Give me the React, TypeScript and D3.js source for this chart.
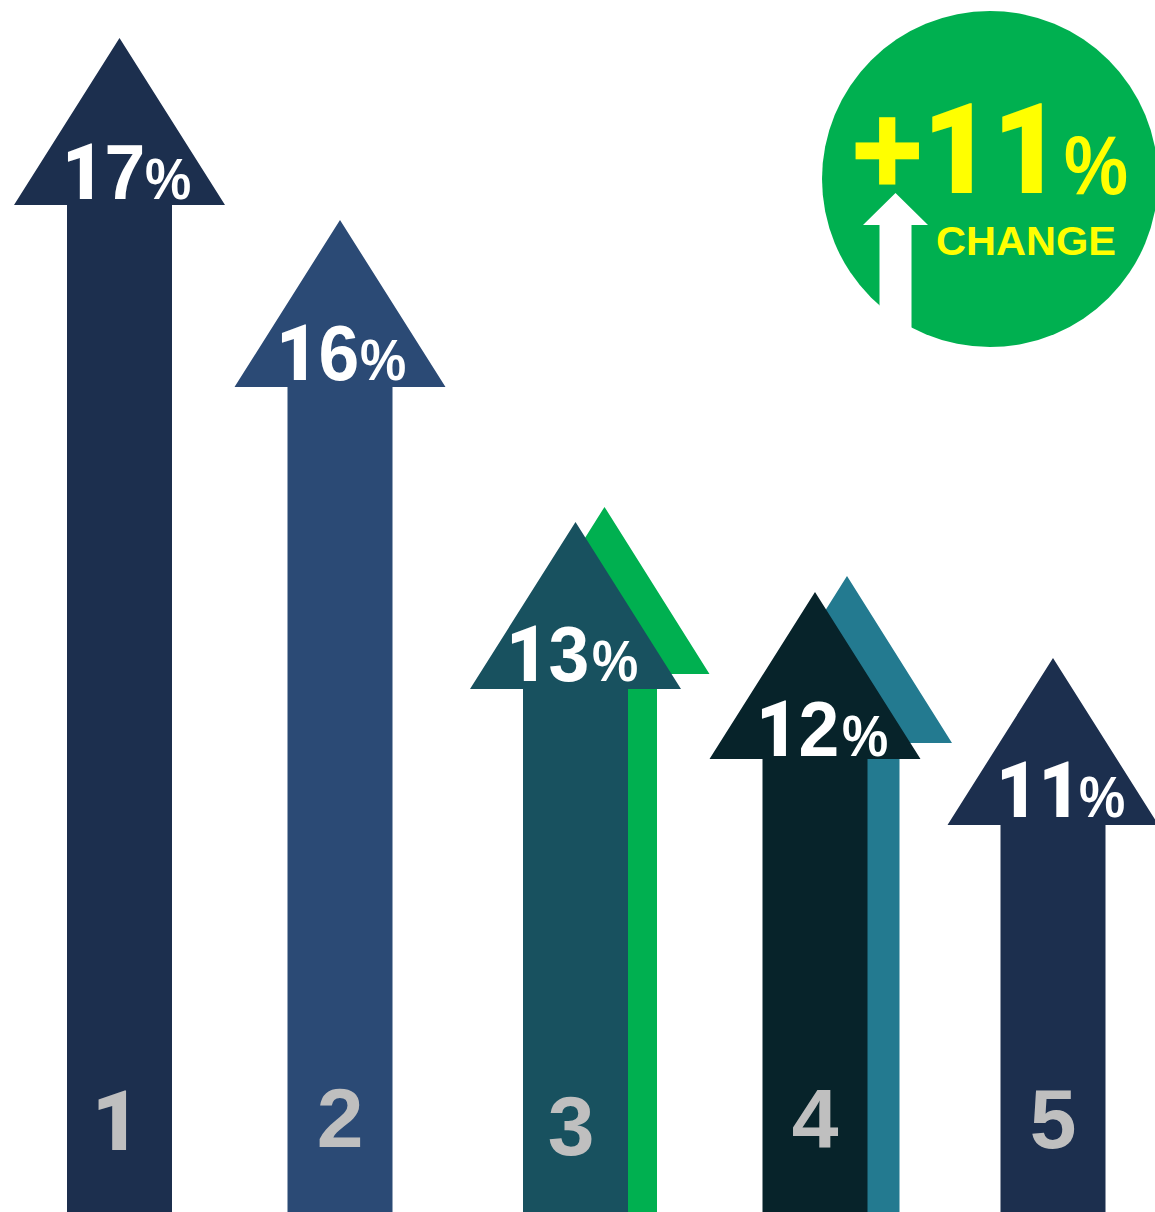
import * as d3 from 'd3';

const categories = ['1', '2', '3', '4', '5'];
const values = [17, 16, 13, 12, 11];
const backCategories = ['3', '4'];
const backValues = [13.15, 12.23];
const changeValue = 11;
const changeLabel = 'CHANGE';

const width = 1155;
const height = 1212;
const font = '"Liberation Sans", Arial, sans-serif';

// arrows are not drawn to a linear scale in the original
const y = d3.scaleLinear().domain([11, 12, 13, 16, 17]).range([658, 592, 522, 220, 38]);
const x = d3.scaleOrdinal<string, number>().domain(categories).range([119.5, 340, 575.5, 815, 1053]);
const backX = d3.scaleOrdinal<string, number>().domain(backCategories).range([604.5, 847]);
const color = d3.scaleOrdinal<string, string>().domain(categories)
  .range(['#1C2F4E', '#2B4A75', '#18515F', '#07232A', '#1C2F4E']);
const backColor = d3.scaleOrdinal<string, string>().domain(backCategories).range(['#00B050', '#237A90']);

// label placement per arrow
const valueX = d3.scaleOrdinal<string, number>().domain(categories).range([62, 276, 506, 756, 996]);
const pctX = d3.scaleOrdinal<string, number>().domain(categories).range([145, 360, 592, 842, 1079]);
const valueY = d3.scaleOrdinal<string, number>().domain(categories).range([199, 380, 681, 756, 817]);
const catY = d3.scaleOrdinal<string, number>().domain(categories).range([1150, 1147, 1155, 1148, 1148]);
const catX = d3.scaleOrdinal<string, number>().domain(categories).range([116, 340, 571, 815, 1053]);

const line = d3.line();

const arrowPath = (cx: number, tip: number, headW: number, headH: number, shaftW: number, bottom: number) =>
  line([
    [cx, tip],
    [cx + headW, tip + headH],
    [cx + shaftW, tip + headH],
    [cx + shaftW, bottom],
    [cx - shaftW, bottom],
    [cx - shaftW, tip + headH],
    [cx - headW, tip + headH],
  ]) + 'Z';

// Liberation's 1 has a foot serif, the original's does not
const digits = (s: string) =>
  s.split('').map((ch, i) => (
    <tspan key={i} fontFamily={ch === '1' ? 'Roboto' : font} fontWeight={ch === '1' ? 900 : 'bold'}>{ch}</tspan>
  ));

export default function App() {
  return (
    <svg
      width={width}
      height={height}
      style={{ position: 'absolute', left: 0, top: 0, display: 'block', background: '#fff', fontKerning: 'none' }}
      fontFamily={font}
      fontWeight="bold"
    >
      {backCategories.map((c, i) => (
        <path key={c} d={arrowPath(backX(c), y(backValues[i]), 105, 167, 52.5, height)} fill={backColor(c)} />
      ))}
      {categories.map((c, i) => (
        <g key={c}>
          <path d={arrowPath(x(c), y(values[i]), 105.5, 167, 52.5, height)} fill={color(c)} />
          <text transform={`translate(${valueX(c)},${valueY(c)}) scale(0.94,1)`} fontSize={78} fill="#fff">
            {digits(String(values[i]))}
          </text>
          <text transform={`translate(${pctX(c)},${valueY(c)}) scale(1,1.12)`} fontSize={52} fill="#fff">%</text>
          <text x={catX(c)} y={catY(c)} fontSize={84} fill="#BFBFBF" textAnchor="middle">{digits(c)}</text>
        </g>
      ))}
      <circle cx={990} cy={179} r={168} fill="#00B050" />
      <path d={arrowPath(895.5, 193, 32.5, 32, 16, 335)} fill="#fff" />
      <text transform="translate(852,193) scale(0.95,1)" fontSize={127} fill="#FFFF00">
        <tspan stroke="#FFFF00" strokeWidth={3}>+</tspan>
        {digits(String(changeValue))}
      </text>
      <text transform="translate(1064,194) scale(1,1.15)" fontSize={72} fill="#FFFF00">%</text>
      <text x={936} y={255} fontSize={41.5} fill="#FFFF00">{changeLabel}</text>
    </svg>
  );
}
